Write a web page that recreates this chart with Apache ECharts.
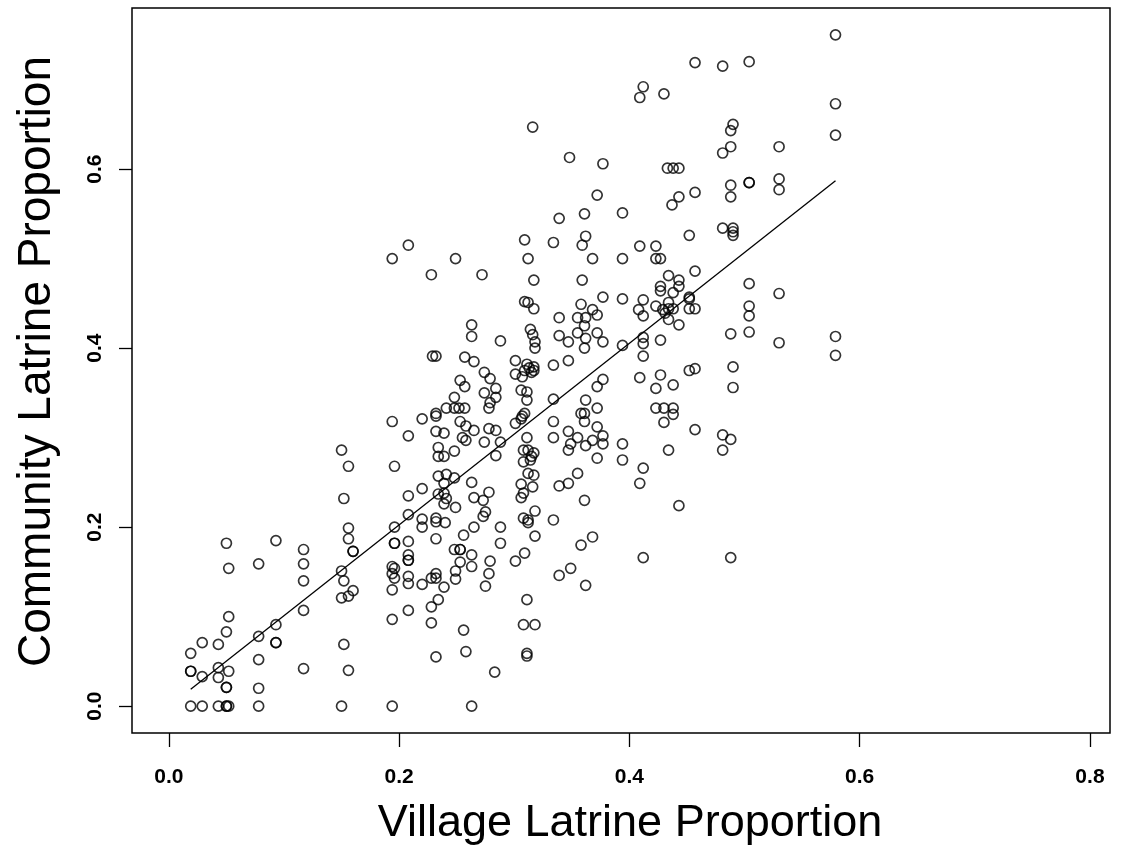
<!DOCTYPE html>
<html><head><meta charset="utf-8">
<script src="https://cdn.jsdelivr.net/npm/echarts@6/dist/echarts.min.js"></script>
<style>html,body{margin:0;padding:0;background:#fff}#c{width:1124px;height:851px}</style>
</head><body><div id="c"></div>
<script>
const xTicks = [0, 0.2, 0.4, 0.6, 0.8];
const yTicks = [0, 0.2, 0.4, 0.6];
const fitX = [0.019, 0.579];
const fitY = [0.019, 0.587];
const xTitle = 'Village Latrine Proportion';
const yTitle = 'Community Latrine Proportion';
// [village proportion, community proportion]
const observations = [
[0.019,0.059],[0.019,0.039],[0.019,0.039],[0.019,0],
[0.029,0.071],[0.029,0.033],[0.029,0],
[0.043,0.069],[0.043,0.043],[0.043,0.032],[0.043,0],
[0.050,0.182],[0.050,0.083],[0.050,0.021],[0.050,0.021],[0.050,0],[0.050,0],
[0.052,0.154],[0.052,0.100],[0.052,0.039],[0.052,0],
[0.078,0.159],[0.078,0.078],[0.078,0.052],[0.078,0.020],[0.078,0],
[0.093,0.185],[0.093,0.091],[0.093,0.071],[0.093,0.071],
[0.117,0.175],[0.117,0.159],[0.117,0.140],[0.117,0.107],[0.117,0.042],
[0.152,0.232],[0.156,0.268],[0.156,0.199],[0.156,0.187],[0.160,0.173],[0.160,0.173],
[0.150,0.151],[0.152,0.140],[0.150,0.121],[0.156,0.123],[0.160,0.129],[0.152,0.069],[0.156,0.040],[0.150,0],[0.150,0.286],
[0.194,0.500],[0.194,0.318],[0.196,0.268],[0.196,0.200],[0.196,0.182],[0.196,0.182],[0.194,0.156],[0.196,0.154],[0.194,0.148],[0.196,0.143],[0.194,0.130],[0.194,0.097],[0.194,0],
[0.208,0.515],[0.208,0.302],[0.208,0.235],[0.208,0.214],[0.208,0.184],[0.208,0.169],[0.208,0.163],[0.208,0.163],[0.208,0.145],[0.208,0.137],[0.208,0.107],
[0.220,0.321],[0.220,0.243],[0.220,0.209],[0.220,0.200],[0.220,0.136],
[0.228,0.482],[0.229,0.391],[0.232,0.391],[0.232,0.327],[0.232,0.324],[0.232,0.307],[0.234,0.289],[0.234,0.279],[0.234,0.257],[0.234,0.237],[0.232,0.210],[0.232,0.206],[0.232,0.187],[0.228,0.143],[0.232,0.148],[0.232,0.143],[0.234,0.119],[0.228,0.111],[0.228,0.093],[0.232,0.055],
[0.239,0.305],[0.239,0.279],[0.241,0.333],[0.241,0.259],[0.239,0.249],[0.239,0.238],[0.241,0.232],[0.239,0.226],[0.240,0.205],[0.239,0.133],
[0.249,0.500],[0.248,0.345],[0.248,0.333],[0.252,0.333],[0.257,0.333],[0.253,0.364],[0.257,0.357],[0.257,0.390],[0.253,0.318],[0.258,0.313],[0.255,0.300],[0.258,0.297],[0.248,0.285],[0.248,0.255],[0.249,0.222],[0.248,0.175],[0.253,0.175],[0.253,0.175],[0.253,0.161],[0.249,0.151],[0.249,0.142],[0.256,0.191],[0.256,0.085],[0.258,0.061],
[0.263,0.426],[0.263,0.413],[0.265,0.385],[0.265,0.308],[0.263,0.250],[0.265,0.233],[0.265,0.200],[0.263,0.169],[0.263,0.156],[0.263,0],
[0.272,0.482],[0.274,0.373],[0.279,0.366],[0.284,0.355],[0.274,0.350],[0.284,0.345],[0.279,0.339],[0.278,0.333],[0.278,0.310],[0.284,0.308],[0.274,0.295],[0.284,0.280],[0.273,0.230],[0.278,0.239],[0.275,0.217],[0.273,0.212],[0.279,0.162],[0.278,0.148],[0.275,0.134],[0.283,0.038],
[0.288,0.408],[0.288,0.295],[0.288,0.200],[0.288,0.182],
[0.301,0.386],[0.301,0.371],[0.301,0.316],[0.301,0.162],
[0.309,0.521],[0.312,0.500],[0.317,0.476],[0.309,0.452],[0.312,0.451],[0.317,0.444],[0.314,0.421],[0.316,0.415],[0.318,0.407],[0.318,0.400],[0.311,0.382],[0.313,0.378],[0.309,0.375],[0.317,0.379],[0.317,0.375],[0.315,0.373],[0.307,0.368],[0.306,0.353],[0.311,0.351],[0.311,0.342],[0.306,0.321],[0.309,0.327],[0.307,0.324],[0.311,0.300],[0.308,0.286],[0.312,0.286],[0.317,0.283],[0.315,0.279],[0.314,0.275],[0.308,0.273],[0.312,0.260],[0.317,0.258],[0.306,0.248],[0.316,0.245],[0.308,0.238],[0.306,0.233],[0.318,0.218],[0.308,0.210],[0.312,0.208],[0.312,0.205],[0.318,0.190],[0.309,0.171],[0.311,0.119],[0.308,0.091],[0.318,0.091],[0.311,0.059],[0.311,0.056],[0.316,0.647],
[0.334,0.518],[0.339,0.545],[0.334,0.381],[0.334,0.343],[0.334,0.318],[0.334,0.300],[0.334,0.208],[0.339,0.434],[0.339,0.414],[0.339,0.246],[0.339,0.146],
[0.348,0.613],[0.347,0.407],[0.347,0.386],[0.347,0.307],[0.349,0.293],[0.347,0.286],[0.347,0.249],[0.349,0.154],
[0.359,0.515],[0.359,0.476],[0.362,0.525],[0.361,0.550],[0.358,0.449],[0.355,0.434],[0.362,0.434],[0.361,0.425],[0.355,0.417],[0.362,0.411],[0.361,0.400],[0.358,0.327],[0.361,0.327],[0.361,0.318],[0.355,0.300],[0.362,0.342],[0.362,0.291],[0.355,0.260],[0.361,0.230],[0.358,0.180],[0.362,0.135],
[0.368,0.500],[0.372,0.571],[0.377,0.606],[0.377,0.457],[0.368,0.443],[0.372,0.437],[0.372,0.417],[0.377,0.407],[0.377,0.365],[0.372,0.357],[0.372,0.333],[0.372,0.312],[0.377,0.302],[0.368,0.297],[0.377,0.293],[0.372,0.277],[0.368,0.189],
[0.394,0.551],[0.394,0.500],[0.394,0.455],[0.394,0.403],[0.394,0.293],[0.394,0.275],
[0.412,0.692],[0.409,0.680],[0.409,0.514],[0.412,0.454],[0.408,0.443],[0.412,0.436],[0.412,0.412],[0.412,0.405],[0.412,0.391],[0.409,0.367],[0.412,0.266],[0.409,0.249],[0.412,0.166],
[0.430,0.684],[0.433,0.601],[0.438,0.601],[0.443,0.601],[0.443,0.569],[0.437,0.560],[0.423,0.514],[0.423,0.500],[0.427,0.500],[0.434,0.481],[0.443,0.476],[0.427,0.469],[0.427,0.464],[0.443,0.469],[0.438,0.462],[0.434,0.451],[0.423,0.447],[0.429,0.443],[0.434,0.444],[0.438,0.444],[0.431,0.439],[0.434,0.432],[0.443,0.426],[0.427,0.409],[0.427,0.370],[0.438,0.359],[0.423,0.355],[0.423,0.333],[0.430,0.333],[0.438,0.333],[0.438,0.326],[0.430,0.317],[0.434,0.286],[0.443,0.224],
[0.457,0.719],[0.452,0.526],[0.457,0.574],[0.457,0.486],[0.452,0.457],[0.452,0.455],[0.452,0.444],[0.457,0.444],[0.452,0.375],[0.457,0.377],[0.457,0.309],
[0.481,0.715],[0.490,0.650],[0.488,0.643],[0.488,0.625],[0.481,0.618],[0.488,0.582],[0.488,0.569],[0.481,0.534],[0.490,0.534],[0.490,0.530],[0.490,0.526],[0.488,0.416],[0.490,0.379],[0.490,0.356],[0.481,0.303],[0.488,0.298],[0.481,0.286],[0.488,0.166],
[0.504,0.720],[0.504,0.585],[0.504,0.585],[0.504,0.472],[0.504,0.447],[0.504,0.436],[0.504,0.418],
[0.530,0.625],[0.530,0.589],[0.530,0.577],[0.530,0.461],[0.530,0.406],
[0.579,0.750],[0.579,0.673],[0.579,0.638],[0.579,0.413],[0.579,0.392]
];

const FONT = '"Liberation Sans", Arial, Helvetica, sans-serif';
const chart = echarts.init(document.getElementById('c'), null, {renderer: 'canvas'});
chart.setOption({
  animation: false,
  backgroundColor: '#ffffff',
  grid: {left: 132, top: 8, right: 14, bottom: 117, show: true, borderColor: '#000', borderWidth: 1.5, backgroundColor: 'transparent'},
  xAxis: {
    type: 'value', min: -0.032, max: 0.8174,
    splitLine: {show: false},
    axisLine: {show: false, onZero: false},
    axisTick: {show: true, inside: false, length: 14, customValues: xTicks, lineStyle: {color: '#000', width: 1.3}},
    axisLabel: {customValues: xTicks, formatter: v => v.toFixed(1), margin: 34, color: '#000', fontSize: 21, fontWeight: 'bold', fontFamily: FONT},
    name: xTitle, nameLocation: 'middle', nameGap: 68,
    nameTextStyle: {fontSize: 45, color: '#000', fontFamily: FONT, padding: [0, 0, 0, 18]}
  },
  yAxis: {
    type: 'value', min: -0.03, max: 0.78,
    splitLine: {show: false},
    axisLine: {show: false, onZero: false},
    axisTick: {show: true, inside: false, length: 13, customValues: yTicks, lineStyle: {color: '#000', width: 1.3}},
    axisLabel: {customValues: yTicks, formatter: v => v.toFixed(1), rotate: 90, margin: 26, color: '#000', fontSize: 21, fontWeight: 'bold', fontFamily: FONT},
    name: yTitle, nameLocation: 'middle', nameGap: 72, nameRotate: 90,
    nameTextStyle: {fontSize: 46, color: '#000', fontFamily: FONT, padding: [0, 0, 0, 18]}
  },
  series: [
    {type: 'scatter', data: observations, symbol: 'circle', symbolSize: 10, silent: true,
     itemStyle: {color: 'rgba(0,0,0,0)', borderColor: '#000', borderWidth: 1.7}},
    {type: 'line', data: fitX.map((x, i) => [x, fitY[i]]), symbol: 'none', silent: true,
     lineStyle: {color: '#000', width: 1.3}}
  ]
});
</script></body></html>
